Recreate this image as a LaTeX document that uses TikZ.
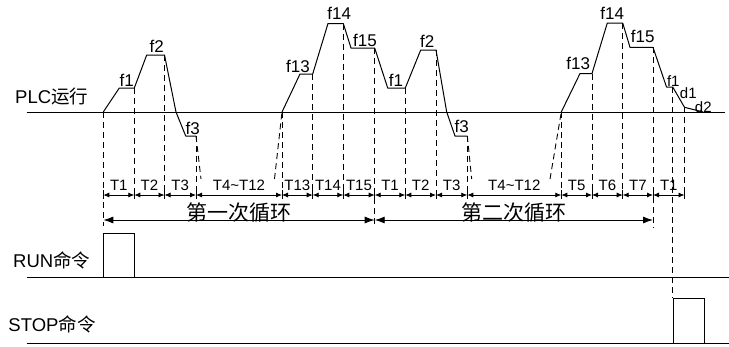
\documentclass[tikz,border=0pt]{standalone}
\usepackage{fontspec}
\setmainfont{Liberation Sans}
\newfontfamily\cjk{Noto Sans CJK SC}
\usetikzlibrary{arrows.meta,positioning}

\begin{document}
\begin{tikzpicture}[x=1pt,y=-1pt,
  wave/.style={line width=1pt,line join=round},
  guide/.style={dash pattern=on 6pt off 4pt,line width=.9pt},
  dim/.style={<->,>={Latex[length=6pt,width=5pt]},line width=.8pt},
  cyc/.style={<->,>={Latex[length=10pt,width=7pt]},line width=.9pt},
  flbl/.style={font=\fontsize{17}{17}\selectfont,inner sep=0pt},
  slbl/.style={font=\fontsize{15}{15}\selectfont,inner sep=0pt},
  tlbl/.style={font=\fontsize{15}{15}\selectfont,inner sep=0pt},
  sig/.style={font=\fontsize{18.5}{18.5}\selectfont,inner sep=0pt},
  clbl/.style={font=\cjk\fontsize{21}{21}\selectfont,inner sep=0pt},
  pulse/.style={draw,line width=.9pt,minimum width=31pt,inner sep=0pt,anchor=south west}]
\useasboundingbox (0,0) rectangle (729,346);

% signal lines
\node[sig] (plc) at (51.7,96.7) {PLC{\cjk 运行}};
\node[sig] (run) at (51.7,260) {RUN{\cjk 命令}};
\node[sig] (stop) at (52,324) {STOP{\cjk 命令}};
\draw[line width=.9pt] (26.7,112.3) -- (725,112.3);
\draw[line width=.9pt] (26.7,277.5) -- (729,277.5);
\draw[line width=.9pt] (26.7,343.5) -- (729,343.5);
\node[pulse,minimum height=44pt] (runbox) at (103.3,277.5) {};
\node[pulse,minimum height=44.8pt] (stopbox) at (672.7,343.5) {};

% frequency curve
\draw[wave] (103.3,112) -- (119.3,88) -- (134.3,88) -- (146.7,55) -- (164.5,55) -- (176,112) -- (185.7,136) -- (196,136);
\draw[wave] (282,112) -- (300,74) -- (312.7,74) -- (328,23.5) -- (343.3,23.5) -- (351,48) -- (374.7,48) -- (387.7,88) -- (405.3,88)
  -- (420.7,50) -- (436,50) -- (446.7,112) -- (455,136) -- (467.3,136);
\draw[wave] (561.3,112) -- (580,73.5) -- (592,73.5) -- (607.3,23) -- (622.7,23) -- (630,47.3) -- (653,47.3) -- (666.5,87) -- (672.7,87)
  -- (684.5,107.3) -- (703.3,112);
\draw[guide] (196,136) -- (201,179);
\draw[guide] (274.5,179) -- (282,112);
\draw[guide] (467.3,136) -- (471.7,179);
\draw[guide] (550,179) -- (561.3,112);

\node[flbl] (f1a) at (126.7,80) {f1};
\node[flbl] (f2a) at (156.7,46.7) {f2};
\node[flbl] (f3a) at (192.7,128) {f3};
\node[flbl] (f13a) at (298,66.7) {f13};
\node[flbl] (f14a) at (339.3,13.3) {f14};
\node[flbl] (f15a) at (365,40) {f15};
\node[flbl] (f1b) at (396,80) {f1};
\node[flbl] (f2b) at (427.3,41.7) {f2};
\node[flbl] (f3b) at (461.7,126) {f3};
\node[flbl] (f13b) at (578.3,63.3) {f13};
\node[flbl] (f14b) at (612.3,13.3) {f14};
\node[flbl] (f15b) at (642.7,36.7) {f15};
\node[slbl] (f1c) at (673.3,80.7) {f1};
\node[slbl] (d1) at (688.3,93.3) {d1};
\node[slbl] (d2) at (703.3,106.7) {d2};

% time marks
\foreach \x/\y in {134.3/88,164.5/55,196/136,282/112,312.7/74,343.3/23.5,405.3/88,436/50,467.3/136,561.3/112,592/73.5,622.7/23,684.5/107.3}
  \draw[guide] (\x,\y) -- (\x,199);
\draw[guide] (103.3,112) -- (103.3,226);
\draw[guide] (374.7,48) -- (374.7,226);
\draw[guide] (653,47.3) -- (653,228);
\draw[guide] (672.7,87) -- (stopbox.north west);

\foreach \x [count=\i from 0] in {103.3,134.3,164.5,196,282,312.7,343.3,374.7,405.3,436,467.3,561.3,592,622.7,653,684.5}{
  \coordinate (t\i) at (\x,195);
  \draw[line width=.8pt] (\x,190) -- (\x,199);
}
\foreach \i/\j/\t in {0/1/T1,1/2/T2,2/3/T3,3/4/{T4\textasciitilde T12},4/5/T13,5/6/T14,6/7/T15,7/8/T1,
  8/9/T2,9/10/T3,10/11/{T4\textasciitilde T12},11/12/T5,12/13/T6,13/14/T7,14/15/T1}
  \draw[dim] (t\i) -- node[tlbl,above=4pt] {\t} (t\j);

% cycles
\coordinate (c0) at (103.3,220);
\coordinate (c1) at (374.7,220);
\coordinate (c2) at (653,220);
\draw[cyc] (c0) -- node[clbl,above=-3pt] {第一次循环} (c1);
\draw[cyc] (c1) -- node[clbl,above=-3pt] {第二次循环} (c2);
\end{tikzpicture}
\end{document}
